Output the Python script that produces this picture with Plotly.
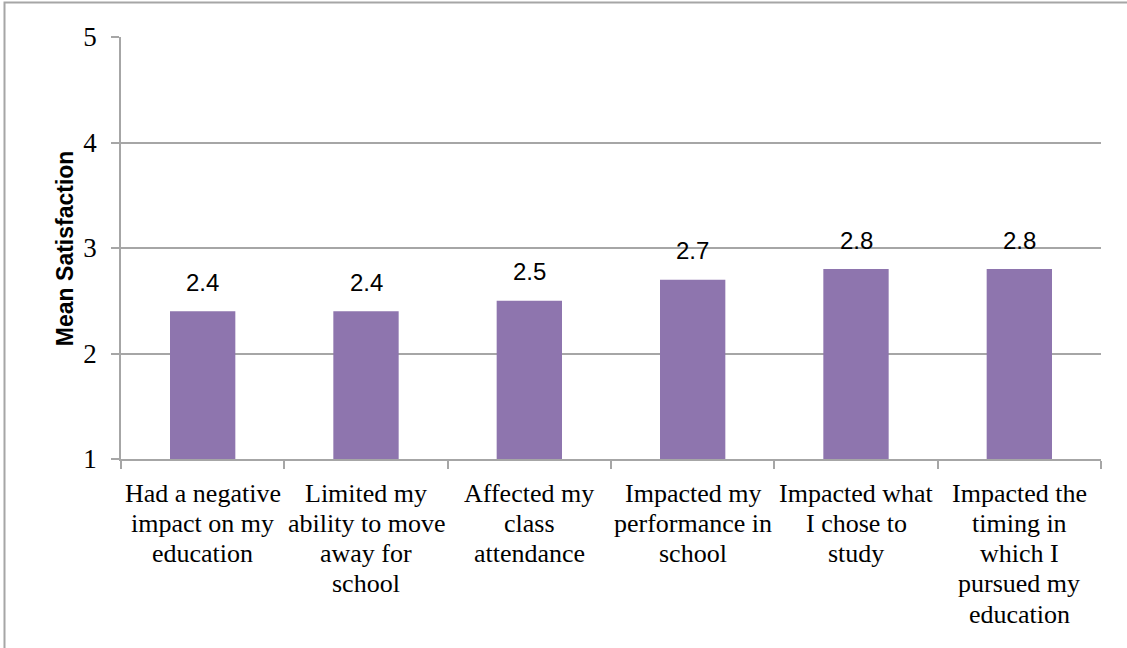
import plotly.graph_objects as go

categories = [
    "Had a negative impact on my education",
    "Limited my ability to move away for school",
    "Affected my class attendance",
    "Impacted my performance in school",
    "Impacted what I chose to study",
    "Impacted the timing in which I pursued my education",
]
# wrapped lines of each category label
label_lines = [
    ["Had a negative", "impact on my", "education"],
    ["Limited my", "ability to move", "away for", "school"],
    ["Affected my", "class", "attendance"],
    ["Impacted my", "performance in", "school"],
    ["Impacted what", "I chose to", "study"],
    ["Impacted the", "timing in", "which I", "pursued my", "education"],
]
mean_satisfaction = [2.4, 2.4, 2.5, 2.7, 2.8, 2.8]
y_ticks = [1, 2, 3, 4, 5]

BAR = "#8E75AE"
GRID = "#A6A6A6"

fig = go.Figure(
    go.Bar(
        x=categories,
        y=mean_satisfaction,
        marker=dict(color=BAR, line=dict(width=0)),
        width=0.4,
        hoverinfo="x+y",
    )
)

# value labels above each bar
for c, v in zip(categories, mean_satisfaction):
    fig.add_annotation(
        x=c, y=v, text=f"{v:.1f}", showarrow=False,
        yshift=29, yanchor="middle",
        font=dict(family="Liberation Sans", size=24, color="#000000"),
    )

# category labels, one line at a time for tighter line spacing
for c, lines in zip(categories, label_lines):
    for i, line in enumerate(lines):
        fig.add_annotation(
            x=c, xref="x", y=0, yref="paper", text=line, showarrow=False,
            yanchor="middle", yshift=-34 - i * 30.3,
            font=dict(family="Liberation Serif", size=26, color="#000000"),
        )

# axis title
fig.add_annotation(
    xref="paper", yref="paper", x=-0.057, y=0.5,
    text="<b>Mean Satisfaction</b>", textangle=-90, showarrow=False,
    xanchor="center", yanchor="middle",
    font=dict(family="Liberation Sans", size=23, color="#000000"),
)

# chart frame
fig.add_shape(
    type="rect", xref="paper", yref="paper",
    x0=(4.5 - 121) / 980, x1=1.2, y0=-0.6, y1=1 + (37 - 2.5) / 422,
    line=dict(color="#A6A6A6", width=2), fillcolor="rgba(0,0,0,0)", layer="below",
)

fig.update_layout(
    width=1127, height=648,
    margin=dict(l=121, r=26, t=37, b=189, autoexpand=False),
    paper_bgcolor="white", plot_bgcolor="white",
    showlegend=False,
    xaxis=dict(
        type="category",
        tickson="boundaries",
        ticks="outside", ticklen=8, tickwidth=1.5, tickcolor=GRID,
        showline=True, linecolor=GRID, linewidth=1.5,
        showgrid=False,
        showticklabels=False,
    ),
    yaxis=dict(
        range=[1, 5],
        tickvals=y_ticks,
        ticks="outside", ticklen=8, tickwidth=1.5, tickcolor=GRID,
        showline=True, linecolor=GRID, linewidth=1.5,
        showgrid=True, gridcolor=GRID, gridwidth=1.5,
        zeroline=False,
        ticklabelstandoff=9,
        tickfont=dict(family="Liberation Serif", size=27, color="#000000"),
    ),
)

fig.write_html("out.html")
